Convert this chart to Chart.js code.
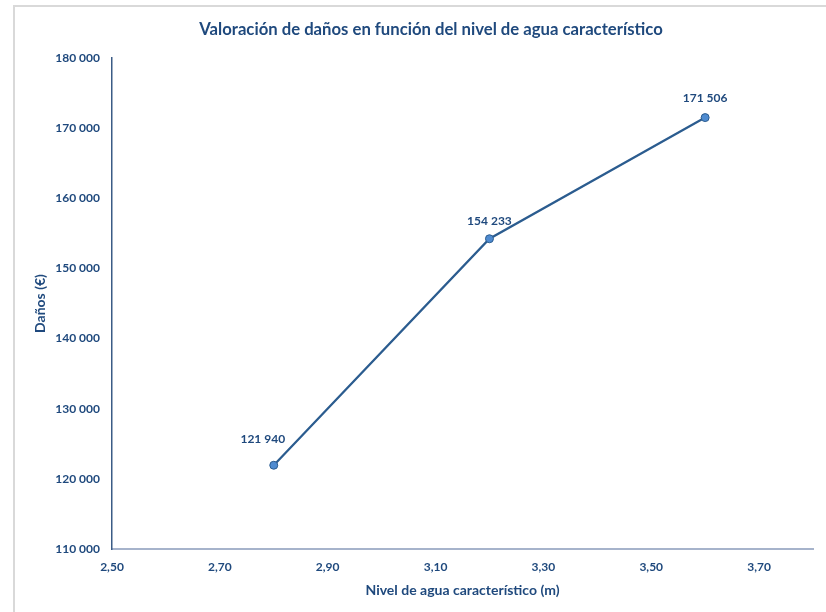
<!DOCTYPE html>
<html>
<head>
<meta charset="utf-8">
<script src="https://cdn.jsdelivr.net/npm/chart.js@4/dist/chart.umd.min.js"></script>
<style>
  html, body { margin: 0; padding: 0; background: #ffffff; }
  #wrap { position: relative; width: 826px; height: 612px; }
</style>
</head>
<body>
<div id="wrap"><canvas id="chart" width="826" height="612"></canvas></div>
<script>
// Water level (m) and estimated damages (€)
const nivelAgua = [2.80, 3.20, 3.60];
const danos = [121940, 154233, 171506];
const xTicks = [2.50, 2.70, 2.90, 3.10, 3.30, 3.50, 3.70];
const yTicks = [110000, 120000, 130000, 140000, 150000, 160000, 170000, 180000];
const titulo = 'Valoración de daños en función del nivel de agua característico';

const TEXT = '#1F497D';
const FONT = 'Lato, "Noto Sans", sans-serif';

// "171506" -> "171 506"
function miles(v) {
  return Math.round(v).toString().replace(/\B(?=(\d{3})+(?!\d))/g, ' ');
}
// 2.5 -> "2,50"
function decimal(v) {
  return v.toFixed(2).replace('.', ',');
}

// Light frame around the chart, plus the chart title centred on the frame
const frame = {
  id: 'frame',
  beforeDraw(chart) {
    const ctx = chart.ctx;
    ctx.save();
    ctx.strokeStyle = '#d9d9d9';
    ctx.lineWidth = 2;
    ctx.beginPath();
    ctx.moveTo(14, chart.height);
    ctx.lineTo(14, 6);
    ctx.lineTo(chart.width, 6);
    ctx.stroke();
    ctx.font = 'bold 16.7px ' + FONT;
    ctx.fillStyle = TEXT;
    ctx.textAlign = 'center';
    ctx.textBaseline = 'middle';
    ctx.fillText(titulo, 431, 30);
    ctx.restore();
  }
};

// Value labels above each point
const valueLabels = {
  id: 'valueLabels',
  afterDatasetsDraw(chart, args, opts) {
    const ctx = chart.ctx;
    const meta = chart.getDatasetMeta(0);
    ctx.save();
    ctx.font = 'bold 12px ' + FONT;
    ctx.fillStyle = TEXT;
    ctx.textAlign = 'center';
    ctx.textBaseline = 'middle';
    meta.data.forEach((pt, i) => {
      const off = opts.offsets[i] || [0, -19];
      ctx.fillText(miles(danos[i]), pt.x + off[0], pt.y + off[1]);
    });
    ctx.restore();
  }
};

new Chart(document.getElementById('chart'), {
  type: 'line',
  data: {
    datasets: [{
      data: nivelAgua.map((x, i) => ({ x: x, y: danos[i] })),
      borderColor: '#2B5C8F',
      borderWidth: 2.25,
      backgroundColor: '#4F8BD0',
      pointBackgroundColor: '#4F8BD0',
      pointBorderColor: '#2B5C8F',
      pointBorderWidth: 1,
      pointRadius: 4,
      tension: 0,
      fill: false
    }]
  },
  options: {
    responsive: false,
    animation: false,
    events: [],
    layout: { padding: { left: 0, right: 13, top: 58, bottom: 0 } },
    plugins: {
      legend: { display: false },
      tooltip: { enabled: false },
      title: { display: false },
      valueLabels: {
        offsets: [[-11, -26], [0, -18], [0, -19]]
      }
    },
    scales: {
      x: {
        type: 'linear',
        min: 2.5,
        max: 3.8,
        afterBuildTicks(scale) {
          scale.ticks = xTicks.map(v => ({ value: v }));
        },
        afterFit(scale) { scale.height = 63; },
        grid: { display: false, drawTicks: false },
        border: { display: true, color: '#A6B3CB', width: 2 },
        ticks: {
          color: TEXT,
          padding: 11,
          font: { family: FONT, size: 12, weight: 'bold' },
          callback: v => decimal(v)
        },
        title: {
          display: true,
          text: 'Nivel de agua característico (m)',
          color: TEXT,
          font: { family: FONT, size: 14, weight: 'bold', lineHeight: 1.2 },
          padding: { top: 4, bottom: 13.6 }
        }
      },
      y: {
        type: 'linear',
        min: 110000,
        max: 180000,
        afterBuildTicks(scale) {
          scale.ticks = yTicks.map(v => ({ value: v }));
        },
        afterFit(scale) { scale.width = 112; },
        grid: { display: false, drawTicks: false },
        border: { display: true, color: '#3B5C86', width: 1.5 },
        ticks: {
          color: TEXT,
          padding: 12,
          font: { family: FONT, size: 12, weight: 'bold' },
          callback: v => miles(v)
        },
        title: {
          display: true,
          text: 'Daños (€)',
          color: TEXT,
          font: { family: FONT, size: 14, weight: 'bold', lineHeight: 1.2 },
          padding: { top: 31.6, bottom: 4 }
        }
      }
    }
  },
  plugins: [frame, valueLabels]
});
</script>
</body>
</html>
